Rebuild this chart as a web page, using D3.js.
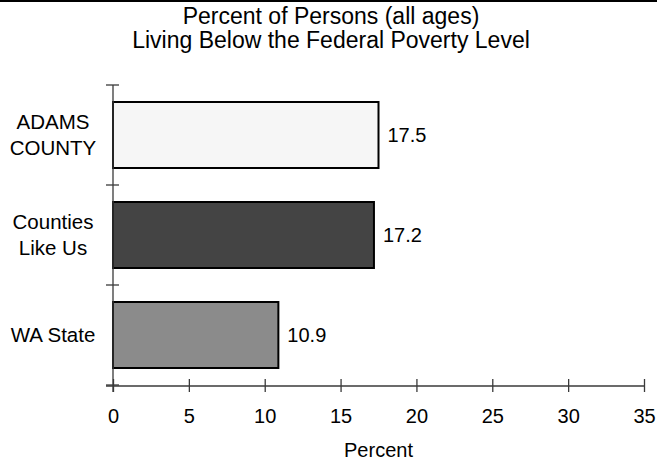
<!DOCTYPE html>
<html>
<head>
<meta charset="utf-8">
<script src="https://cdn.jsdelivr.net/npm/d3@7"></script>
<style>
  html, body { margin: 0; padding: 0; background: #fff; }
  svg { display: block; font-family: "Liberation Sans", Arial, Helvetica, sans-serif; }
</style>
</head>
<body>
<svg id="chart" width="657" height="464"></svg>
<script>
const categories = ["ADAMS COUNTY", "Counties Like Us", "WA State"];
const categoryLines = [["ADAMS", "COUNTY"], ["Counties", "Like Us"], ["WA State"]];
const values = [17.5, 17.2, 10.9];
const valueLabels = ["17.5", "17.2", "10.9"];
const barColors = ["#f6f6f6", "#444444", "#8b8b8b"];
const xTicks = [0, 5, 10, 15, 20, 25, 30, 35];
const titleLines = ["Percent of Persons (all ages)", "Living Below the Federal Poverty Level"];
const xAxisTitle = "Percent";

const W = 657, H = 464;
const plot = { left: 113, right: 644, top: 85, bottom: 385 };
const svg = d3.select("#chart");
const axisColor = "#3a3a3a";

// top border
svg.append("rect").attr("x", 0).attr("y", 0).attr("width", W).attr("height", 2).attr("fill", "#000");

// title
svg.append("g").selectAll("text").data(titleLines).join("text")
  .attr("x", 331)
  .attr("y", (d, i) => 24 + i * 24)
  .attr("text-anchor", "middle")
  .attr("font-size", 23)
  .attr("fill", "#000")
  .text(d => d);

const x = d3.scaleLinear().domain([0, 35]).range([plot.left, plot.right]);
const y = d3.scaleBand().domain(categories).range([plot.top, plot.bottom]).padding(0);
const inset = y.bandwidth() * 0.17;

// bars
svg.append("g").selectAll("rect").data(categories).join("rect")
  .attr("x", x(0))
  .attr("y", d => y(d) + inset)
  .attr("width", (d, i) => x(values[i]) - x(0))
  .attr("height", y.bandwidth() - 2 * inset)
  .attr("fill", (d, i) => barColors[i])
  .attr("stroke", "#000")
  .attr("stroke-width", 2);

// value labels
svg.append("g").selectAll("text").data(categories).join("text")
  .attr("x", (d, i) => x(values[i]) + 9)
  .attr("y", d => y(d) + y.bandwidth() / 2 + 7)
  .attr("font-size", 20)
  .attr("fill", "#000")
  .text((d, i) => valueLabels[i]);

// x axis
const xAxis = svg.append("g")
  .attr("transform", `translate(0,${plot.bottom + 1})`)
  .call(d3.axisBottom(x).tickValues(xTicks).tickSize(6).tickPadding(0).tickFormat(d3.format("d")));
xAxis.select(".domain").remove();
xAxis.append("line")
  .attr("x1", plot.left - 7).attr("x2", plot.right)
  .attr("stroke", axisColor).attr("stroke-width", 1.3);
xAxis.selectAll(".tick line").attr("y1", -7).attr("y2", 6).attr("stroke", axisColor).attr("stroke-width", 1.3);
xAxis.selectAll(".tick text")
  .attr("y", 37).attr("dy", null)
  .attr("font-size", 20).attr("font-family", "Liberation Sans, Arial, sans-serif").attr("fill", "#000");

// y axis
const yAxis = svg.append("g");
yAxis.append("line")
  .attr("x1", plot.left).attr("x2", plot.left)
  .attr("y1", plot.top).attr("y2", plot.bottom + 7)
  .attr("stroke", axisColor).attr("stroke-width", 1.3);
const boundaries = categories.map(c => y(c)).concat([plot.bottom]);
yAxis.selectAll("line.tick").data(boundaries).join("line")
  .attr("class", "tick")
  .attr("x1", plot.left - 7).attr("x2", plot.left + 6)
  .attr("y1", d => d).attr("y2", d => d)
  .attr("stroke", axisColor).attr("stroke-width", 1.3);

// category labels
const labG = svg.append("g");
categories.forEach((c, i) => {
  const lines = categoryLines[i];
  const cy = y(c) + y.bandwidth() / 2;
  const lh = 26;
  lines.forEach((ln, j) => {
    labG.append("text")
      .attr("x", 53)
      .attr("y", cy + 7 + (j - (lines.length - 1) / 2) * lh)
      .attr("text-anchor", "middle")
      .attr("font-size", 20.5)
      .attr("fill", "#000")
      .text(ln);
  });
});

// x axis title
svg.append("text")
  .attr("x", (plot.left + plot.right) / 2)
  .attr("y", 457)
  .attr("text-anchor", "middle")
  .attr("font-size", 20)
  .attr("fill", "#000")
  .text(xAxisTitle);
</script>
</body>
</html>
